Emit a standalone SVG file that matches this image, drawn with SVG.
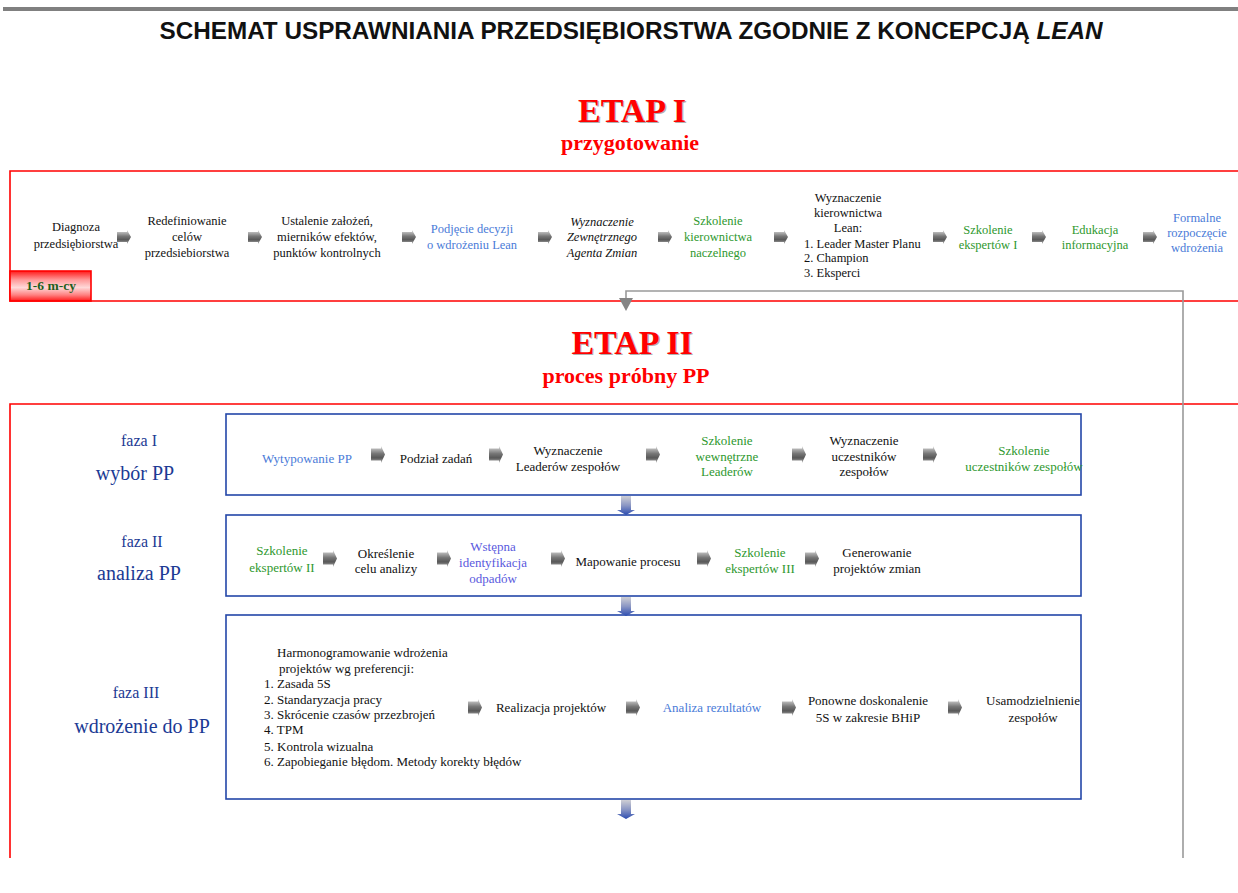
<svg xmlns="http://www.w3.org/2000/svg" width="1238" height="893" viewBox="0 0 1238 893">
<defs>
  <linearGradient id="gArrow" x1="0" y1="0" x2="0" y2="1">
    <stop offset="0" stop-color="#dcdcdc"/>
    <stop offset="0.45" stop-color="#767676"/>
    <stop offset="0.7" stop-color="#585858"/>
    <stop offset="1" stop-color="#b4b4b4"/>
  </linearGradient>
  <linearGradient id="gDown" x1="0" y1="0" x2="0" y2="1">
    <stop offset="0" stop-color="#cfcfd4"/>
    <stop offset="0.5" stop-color="#8a96c4"/>
    <stop offset="1" stop-color="#2c4cb0"/>
  </linearGradient>
  <linearGradient id="gBadge" x1="0" y1="0" x2="0" y2="1">
    <stop offset="0" stop-color="#ff1a1a"/>
    <stop offset="0.3" stop-color="#ff9a9a"/>
    <stop offset="0.55" stop-color="#ffd8d8"/>
    <stop offset="0.8" stop-color="#ff8080"/>
    <stop offset="1" stop-color="#ff1a1a"/>
  </linearGradient>
  <path id="ra" d="M0,2 H10 V0 L14,7 L10,14 V12 H0 Z" fill="url(#gArrow)"/>
  <path id="rb" d="M0,2.5 H10 V0 L14,8.5 L10,17 V14.5 H0 Z" fill="url(#gArrow)"/>
  <path id="da" d="M-5,0 H5 V14 H9 L0,19 L-9,14 H-5 Z" fill="url(#gDown)"/>
  <style>
    .t{font-family:"Liberation Serif","Times New Roman",serif;font-size:12.5px;text-anchor:middle}
    .p{font-family:"Liberation Serif","Times New Roman",serif;font-size:13px;text-anchor:middle}
    .l{font-family:"Liberation Serif","Times New Roman",serif;font-size:12.5px;text-anchor:start;fill:#111}
    .l13{font-size:13px}
    .k{fill:#111}
    .b{fill:#4a7bd8}
    .g{fill:#2e982e}
    .v{fill:#5a5ade}
    .etap{font-family:"Liberation Serif","Times New Roman",serif;font-weight:bold;font-size:34px;text-anchor:middle}
    .sub{font-family:"Liberation Serif","Times New Roman",serif;font-weight:bold;font-size:22px;text-anchor:middle;fill:#ff0000}
    .faza{font-family:"Liberation Serif","Times New Roman",serif;font-size:16px;text-anchor:middle;fill:#1c3a94}
    .fname{font-family:"Liberation Serif","Times New Roman",serif;font-size:20px;text-anchor:middle;fill:#1c3a94}
    .frame{fill:none;stroke:#ff0000;stroke-width:1.6}
    .box{fill:#fff;stroke:#2446a8;stroke-width:1.6}
  </style>
</defs>
<rect width="1238" height="893" fill="#fff"/>

<!-- header -->
<g id="header">
  <rect x="3" y="7" width="1235" height="4" fill="#808080"/>
  <text x="631" y="39" font-family="'Liberation Sans',Arial,sans-serif" font-weight="bold" font-size="24" text-anchor="middle" fill="#111" textLength="943" lengthAdjust="spacingAndGlyphs">SCHEMAT USPRAWNIANIA PRZEDSIĘBIORSTWA ZGODNIE Z KONCEPCJĄ <tspan font-style="italic">LEAN</tspan></text>
</g>

<!-- ETAP I -->
<g id="etap1">
  <text class="etap" x="633.2" y="123.2" fill="#b0b0b0">ETAP I</text>
  <text class="etap" x="632" y="122" fill="#ff0000">ETAP I</text>
  <text class="sub" x="630" y="150">przygotowanie</text>
  <path class="frame" d="M1240,171 H10 V301 H1240"/>
  <g id="badge">
    <rect x="10" y="271" width="81" height="30" fill="url(#gBadge)" stroke="#ff0000" stroke-width="1.6"/>
    <text x="51" y="290" font-family="'Liberation Serif',serif" font-weight="bold" font-size="13.5" text-anchor="middle" fill="#1d5e1d">1-6 m-cy</text>
  </g>
</g>

<g id="n1"><text class="t k"><tspan x="76" y="231">Diagnoza</tspan><tspan x="76" y="248">przedsiębiorstwa</tspan></text></g>
<g id="n2"><text class="t k"><tspan x="187" y="225">Redefiniowanie</tspan><tspan x="187" y="241">celów</tspan><tspan x="187" y="257">przedsiebiorstwa</tspan></text></g>
<g id="n3"><text class="t k"><tspan x="327" y="225">Ustalenie założeń,</tspan><tspan x="327" y="241">mierników efektów,</tspan><tspan x="327" y="257">punktów kontrolnych</tspan></text></g>
<g id="n4"><text class="t b"><tspan x="472" y="233">Podjęcie decyzji</tspan><tspan x="472" y="249">o wdrożeniu Lean</tspan></text></g>
<g id="n5"><text class="t k" font-style="italic"><tspan x="602" y="226">Wyznaczenie</tspan><tspan x="602" y="241">Zewnętrznego</tspan><tspan x="602" y="257">Agenta Zmian</tspan></text></g>
<g id="n6"><text class="t g"><tspan x="718" y="225">Szkolenie</tspan><tspan x="718" y="241">kierownictwa</tspan><tspan x="718" y="257">naczelnego</tspan></text></g>
<g id="n7">
  <text class="t k"><tspan x="848" y="202">Wyznaczenie</tspan><tspan x="848" y="217">kierownictwa</tspan><tspan x="848" y="232">Lean:</tspan></text>
  <text class="l"><tspan x="804" y="248">1. Leader Master Planu</tspan><tspan x="804" y="262">2. Champion</tspan><tspan x="804" y="277">3. Eksperci</tspan></text>
</g>
<g id="n8"><text class="t g"><tspan x="988" y="234">Szkolenie</tspan><tspan x="988" y="249">ekspertów I</tspan></text></g>
<g id="n9"><text class="t g"><tspan x="1095" y="234">Edukacja</tspan><tspan x="1095" y="249">informacyjna</tspan></text></g>
<g id="n10"><text class="t b"><tspan x="1197" y="222">Formalne</tspan><tspan x="1197" y="237">rozpoczęcie</tspan><tspan x="1197" y="252">wdrożenia</tspan></text></g>

<!-- ETAP II -->
<g id="etap2">
  <text class="etap" x="633.2" y="355.2" fill="#b0b0b0">ETAP II</text>
  <text class="etap" x="632" y="354" fill="#ff0000">ETAP II</text>
  <text class="sub" x="626" y="383">proces próbny PP</text>
  <path class="frame" d="M1240,404 H10 V858"/>
</g>

<g id="faza1-label"><text class="faza" x="139" y="446">faza I</text><text class="fname" x="135" y="480">wybór PP</text></g>
<g id="faza2-label"><text class="faza" x="142" y="547">faza II</text><text class="fname" x="139" y="580">analiza PP</text></g>
<g id="faza3-label"><text class="faza" x="136" y="698">faza III</text><text class="fname" x="142" y="733">wdrożenie do PP</text></g>

<g id="box1"><rect class="box" x="226" y="414" width="855" height="81"/></g>
<g id="box2"><rect class="box" x="226" y="515" width="855" height="81"/></g>
<g id="box3"><rect class="box" x="226" y="615" width="855" height="184"/></g>

<!-- faza I nodes -->
<g id="f1n1"><text class="p b" x="307" y="463">Wytypowanie PP</text></g>
<g id="f1n2"><text class="p k" x="436" y="463">Podział zadań</text></g>
<g id="f1n3"><text class="p k"><tspan x="568" y="455">Wyznaczenie</tspan><tspan x="568" y="471">Leaderów zespołów</tspan></text></g>
<g id="f1n4"><text class="p g"><tspan x="727" y="445">Szkolenie</tspan><tspan x="727" y="461">wewnętrzne</tspan><tspan x="727" y="476">Leaderów</tspan></text></g>
<g id="f1n5"><text class="p k"><tspan x="864" y="445">Wyznaczenie</tspan><tspan x="864" y="461">uczestników</tspan><tspan x="864" y="476">zespołów</tspan></text></g>
<g id="f1n6"><text class="p g"><tspan x="1024" y="455">Szkolenie</tspan><tspan x="1024" y="471">uczestników zespołów</tspan></text></g>

<!-- faza II nodes -->
<g id="f2n1"><text class="p g"><tspan x="282" y="555">Szkolenie</tspan><tspan x="282" y="572">ekspertów II</tspan></text></g>
<g id="f2n2"><text class="p k"><tspan x="386" y="558">Określenie</tspan><tspan x="386" y="573">celu analizy</tspan></text></g>
<g id="f2n3"><text class="p v"><tspan x="493" y="551">Wstępna</tspan><tspan x="493" y="567">identyfikacja</tspan><tspan x="493" y="583">odpadów</tspan></text></g>
<g id="f2n4"><text class="p k" x="628" y="566">Mapowanie procesu</text></g>
<g id="f2n5"><text class="p g"><tspan x="760" y="557">Szkolenie</tspan><tspan x="760" y="573">ekspertów III</tspan></text></g>
<g id="f2n6"><text class="p k"><tspan x="877" y="557">Generowanie</tspan><tspan x="877" y="573">projektów zmian</tspan></text></g>

<!-- faza III nodes -->
<g id="f3n1">
  <text class="l l13"><tspan x="277" y="657">Harmonogramowanie wdrożenia</tspan><tspan x="279" y="673">projektów  wg preferencji:</tspan><tspan x="264" y="688">1. Zasada 5S</tspan><tspan x="264" y="704">2. Standaryzacja pracy</tspan><tspan x="264" y="719">3. Skrócenie czasów przezbrojeń</tspan><tspan x="264" y="734">4. TPM</tspan><tspan x="264" y="751">5. Kontrola wizualna</tspan><tspan x="264" y="766">6. Zapobieganie błędom. Metody korekty błędów</tspan></text>
</g>
<g id="f3n2"><text class="p k" x="551" y="712">Realizacja projektów</text></g>
<g id="f3n3"><text class="p b" x="712" y="712">Analiza rezultatów</text></g>
<g id="f3n4"><text class="p k"><tspan x="868" y="705">Ponowne doskonalenie</tspan><tspan x="868" y="722">5S w zakresie BHiP</tspan></text></g>
<g id="f3n5"><text class="p k"><tspan x="1033" y="705">Usamodzielnienie</tspan><tspan x="1033" y="722">zespołów</tspan></text></g>

<!-- connectors -->
<g id="connectors">
  <path d="M1183,858 V291 H626 V299" fill="none" stroke="#9a9a9a" stroke-width="1.6"/>
  <path d="M619,298 H633 L626,311 Z" fill="#858585"/>

  <use href="#ra" x="117" y="230"/>
  <use href="#ra" x="248" y="230"/>
  <use href="#ra" x="402" y="230"/>
  <use href="#ra" x="538" y="230"/>
  <use href="#ra" x="658" y="230"/>
  <use href="#ra" x="774" y="230"/>
  <use href="#ra" x="933" y="230"/>
  <use href="#ra" x="1032" y="230"/>
  <use href="#ra" x="1143" y="230"/>

  <use href="#rb" x="371" y="446"/>
  <use href="#rb" x="489" y="446"/>
  <use href="#rb" x="646" y="446"/>
  <use href="#rb" x="792" y="446"/>
  <use href="#rb" x="923" y="446"/>

  <use href="#rb" x="323" y="550"/>
  <use href="#rb" x="437" y="550"/>
  <use href="#rb" x="551" y="550"/>
  <use href="#rb" x="697" y="550"/>
  <use href="#rb" x="805" y="550"/>

  <use href="#rb" x="468" y="699"/>
  <use href="#rb" x="626" y="699"/>
  <use href="#rb" x="782" y="699"/>
  <use href="#rb" x="948" y="699"/>

  <use href="#da" x="626" y="496"/>
  <use href="#da" x="626" y="597"/>
  <use href="#da" x="626" y="800"/>
</g>
</svg>
